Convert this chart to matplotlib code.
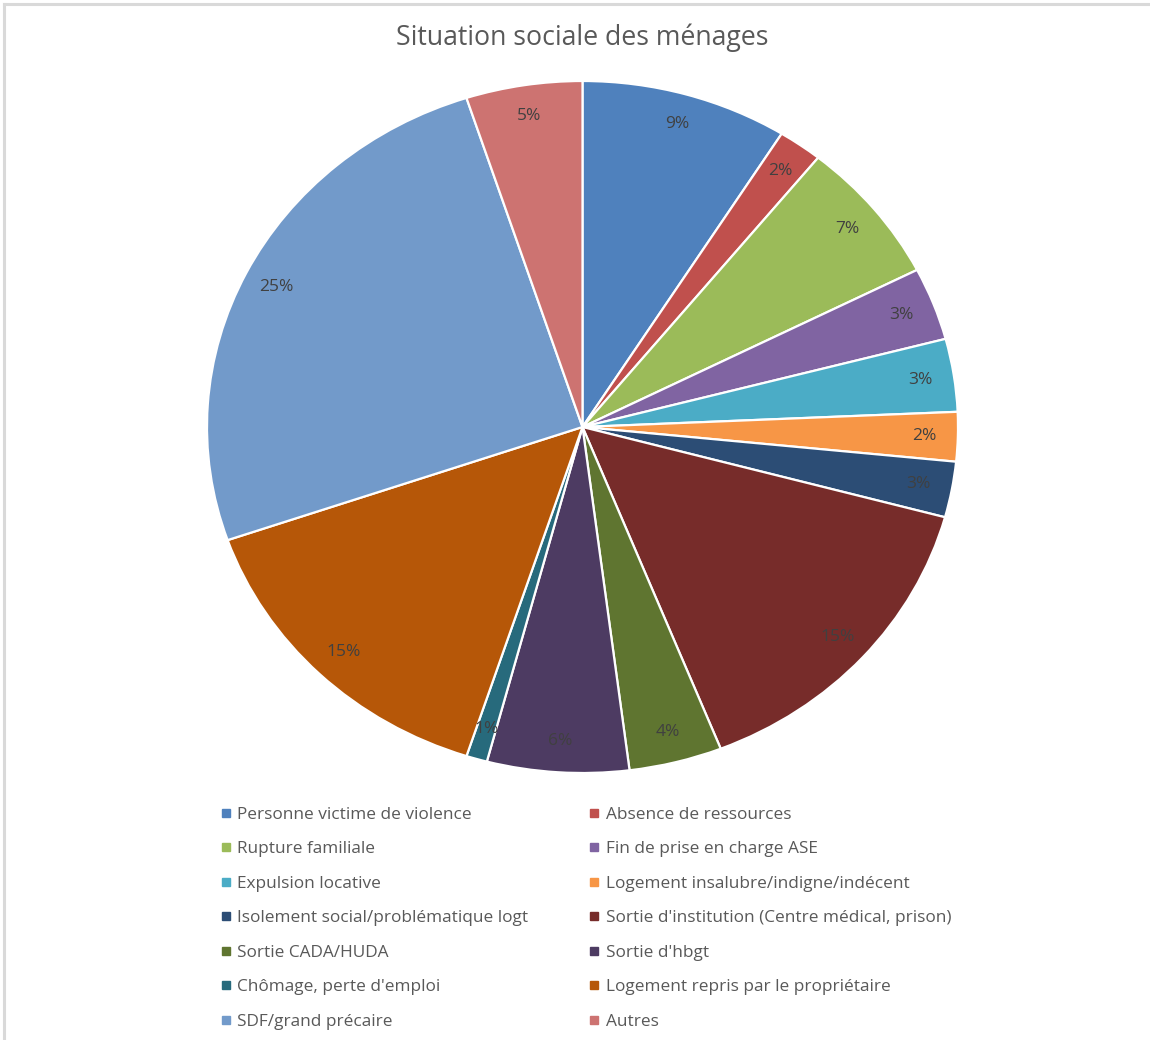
import matplotlib

matplotlib.use("Agg")
import matplotlib.pyplot as plt
from matplotlib.lines import Line2D

# Share of households per social situation (percent)
categories = [
    "Personne victime de violence",
    "Absence de ressources",
    "Rupture familiale",
    "Fin de prise en charge ASE",
    "Expulsion locative",
    "Logement insalubre/indigne/indécent",
    "Isolement social/problématique logt",
    "Sortie d'institution (Centre médical, prison)",
    "Sortie CADA/HUDA",
    "Sortie d'hbgt",
    "Chômage, perte d'emploi",
    "Logement repris par le propriétaire",
    "SDF/grand précaire",
    "Autres",
]
shares = [8.9, 1.9, 6.7, 3.4, 3.4, 2.3, 2.6, 14.8, 4.0, 6.1, 0.9, 14.7, 25.3, 5.0]
colors = [
    "#4F81BD", "#C0504D", "#9BBB59", "#8064A2", "#4BACC6", "#F79646", "#2C4D75",
    "#772C2A", "#5F7530", "#4D3B62", "#276A7C", "#B65708", "#729ACA", "#CD7371",
]
title = "Situation sociale des ménages"

plt.rcParams["font.family"] = ["Open Sans", "DejaVu Sans"]

W, H = 1150, 1040
fig = plt.figure(figsize=(W / 100, H / 100), dpi=100)

# pie box in pixels: left 207, right 958, top 81, bottom 773 (slightly squashed)
ax = fig.add_axes([207 / W, 1 - 773 / H, (958 - 207) / W, (773 - 81) / H])
wedges, texts, autotexts = ax.pie(
    shares,
    colors=colors,
    startangle=90,
    counterclock=False,
    autopct="%.0f%%",
    pctdistance=0.91,
    wedgeprops={"edgecolor": "white", "linewidth": 1.6},
    textprops={"color": "#404040", "fontsize": 12.5},
)
ax.set_aspect("auto")
ax.set_xlim(-1, 1)
ax.set_ylim(-1, 1)

fig.text(582 / W, 1 - 38 / H, title, ha="center", va="center", fontsize=19.2, color="#595959")

# legend is read row by row, matplotlib fills column by column
order = list(range(0, len(categories), 2)) + list(range(1, len(categories), 2))
handles = [
    Line2D([], [], marker="s", linestyle="", color=colors[i], markersize=5.5)
    for i in order
]
labels = [categories[i] for i in order]
fig.legend(
    handles,
    labels,
    ncol=2,
    loc="upper left",
    bbox_to_anchor=(212 / W, 1 - 798 / H),
    frameon=False,
    fontsize=12.4,
    labelcolor="#595959",
    handlelength=0.6,
    handletextpad=0.35,
    labelspacing=1.07,
    columnspacing=3.55,
    borderpad=0,
)

# chart area border (top and left edges only)
fig.add_artist(Line2D([4 / W, 4 / W], [0, 1 - 4 / H], color="#D9D9D9", linewidth=2.2))
fig.add_artist(Line2D([4 / W, 1], [1 - 4 / H, 1 - 4 / H], color="#D9D9D9", linewidth=2.2))

fig.savefig("out.png", dpi=100, facecolor="white")
